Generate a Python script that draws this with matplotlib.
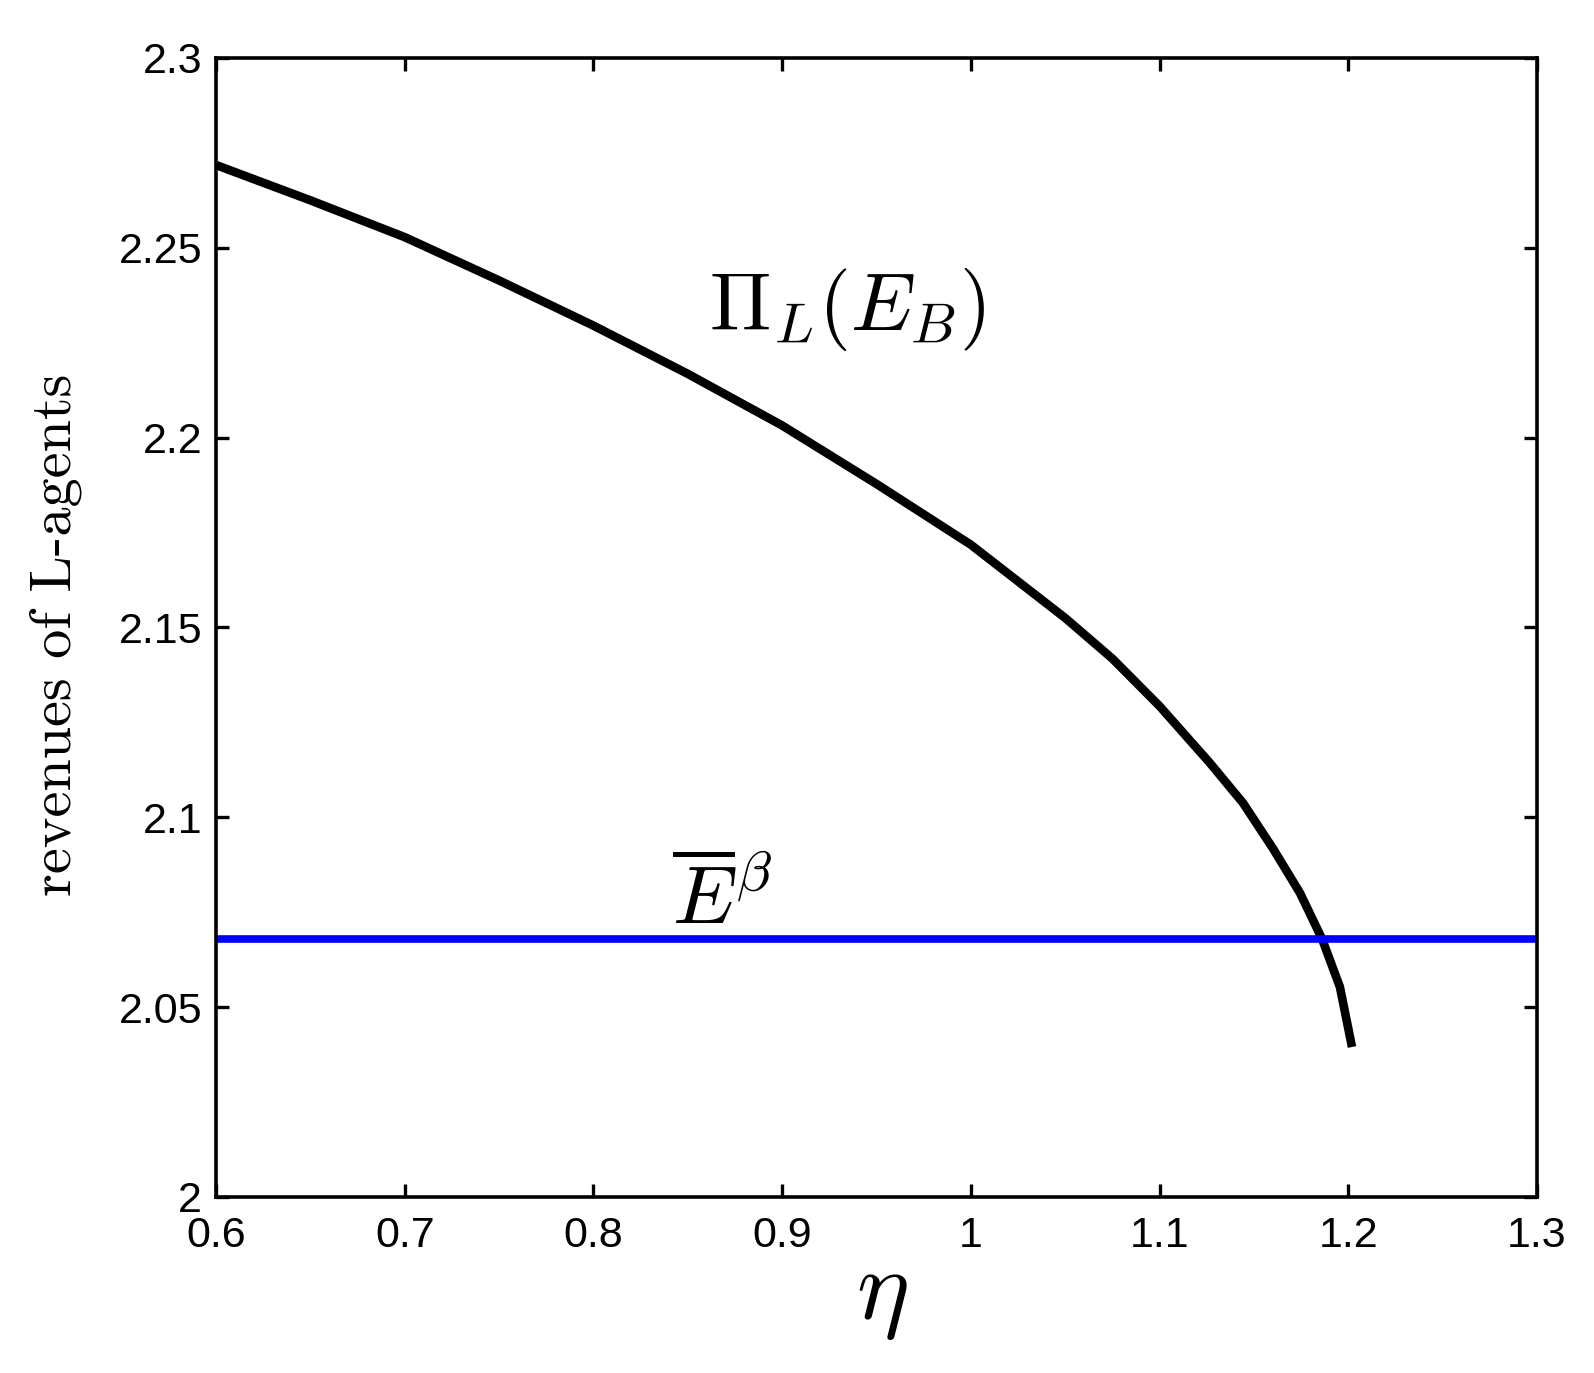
import numpy as np
import matplotlib
matplotlib.use("Agg")
import matplotlib.pyplot as plt
from matplotlib.ticker import FormatStrFormatter, MultipleLocator

plt.rcParams['mathtext.fontset'] = 'cm'

# valeurs
eta = [0.6, 0.65, 0.7, 0.75, 0.8, 0.85, 0.9, 0.95, 1.0, 1.05, 1.075, 1.1,
       1.1267, 1.1442, 1.1601, 1.1744, 1.1861, 1.1956, 1.2020]
revenus = [2.2718, 2.2625, 2.2528, 2.2414, 2.2295, 2.2168, 2.2032, 2.1878, 2.1718,
           2.1525, 2.1418, 2.1293, 2.1143, 2.1038, 2.0918, 2.0801, 2.0680, 2.0553,
           2.0395]
e_bar_beta = 2.068

fig = plt.figure(figsize=(15.94, 13.73), dpi=100)
ax = fig.add_axes([0.1355, 0.1282, 0.9642 - 0.1355, 0.9578 - 0.1282])

ax.plot(eta, revenus, color='black', lw=6.2, solid_capstyle='butt',
        solid_joinstyle='round')
ax.axhline(e_bar_beta, color='#0000ff', lw=5.5)

ax.set_xlim(0.6, 1.3)
ax.set_ylim(2.0, 2.3)
ax.xaxis.set_major_locator(MultipleLocator(0.1))
ax.yaxis.set_major_locator(MultipleLocator(0.05))
ax.xaxis.set_major_formatter(FormatStrFormatter('%g'))
ax.yaxis.set_major_formatter(FormatStrFormatter('%g'))

ax.tick_params(direction='in', length=9.5, width=2.4, top=True, right=True,
               labelsize=31)
ax.tick_params(axis='x', pad=14)
ax.tick_params(axis='y', pad=10)
for lab in ax.get_xticklabels() + ax.get_yticklabels():
    lab.set_family('Liberation Sans')
for s in ax.spines.values():
    s.set_linewidth(2.6)

ax.text(0.861, 2.2284, r'$\Pi_L(E_B)$', fontsize=59, ha='left', va='baseline')
ax.text(0.8416, 2.0722, r'$\overline{E}^{\beta}$', fontsize=59, ha='left', va='baseline')

fig.text(56 / 1594, 1 - 635 / 1373, 'revenues of L-agents', family='cmr10',
         fontsize=42, rotation=90, ha='center', va='center')
fig.text(882 / 1594, 1 - 1294 / 1373, r'$\eta$', fontsize=72,
         ha='center', va='center')

fig.savefig('out.png', dpi=100)
